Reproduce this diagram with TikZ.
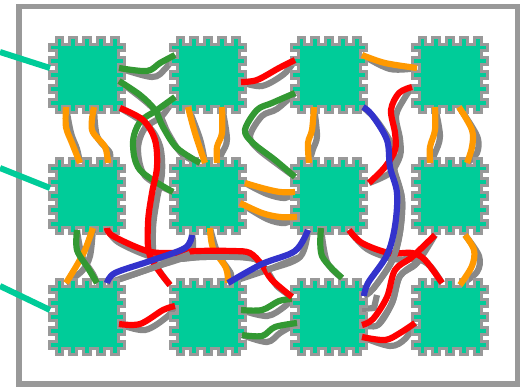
\documentclass[tikz,border=0pt]{standalone}
\usetikzlibrary{calc}
\definecolor{chipfill}{HTML}{00CC99}
\definecolor{chipedge}{HTML}{999999}
\definecolor{wshadow}{HTML}{888888}
\definecolor{wr}{HTML}{FF0000}
\definecolor{wo}{HTML}{FF9900}
\definecolor{wg}{HTML}{339933}
\definecolor{wb}{HTML}{3333CC}
\tikzset{
  chipbody/.style={fill=chipfill,draw=chipedge,line width=3pt,line join=miter},
  chipnode/.style={minimum size=78pt,inner sep=0pt},
  frame/.style={draw=chipedge,line width=5.5pt,fill=white},
  feed/.style={draw=chipfill,line width=6pt},
  wirecore/.style={line width=6.2pt,line join=round}
}
\newcommand\chipshape[1]{%
  \path[chipbody,shift={(#1)}] (-31,-31)
    \foreach \t in {-27.6,-13.8,0,13.8,27.6}{ -- (\t-3.4,-31) -- (\t-3.4,-37.5) -- (\t+3.4,-37.5) -- (\t+3.4,-31)}
    -- (31,-31)
    \foreach \t in {-27.6,-13.8,0,13.8,27.6}{ -- (31,\t-3.4) -- (37.5,\t-3.4) -- (37.5,\t+3.4) -- (31,\t+3.4)}
    -- (31,31)
    \foreach \t in {27.6,13.8,0,-13.8,-27.6}{ -- (\t+3.4,31) -- (\t+3.4,37.5) -- (\t-3.4,37.5) -- (\t-3.4,31)}
    -- (-31,31)
    \foreach \t in {27.6,13.8,0,-13.8,-27.6}{ -- (-31,\t+3.4) -- (-37.5,\t+3.4) -- (-37.5,\t-3.4) -- (-31,\t-3.4)}
    -- cycle;
}
% wires beneath the later crossings: green, then orange
\newcommand\lowerwires{%
\W{wg}{($(a1)+(32,-7)$) (147,71) (160,63) ($(a2)+(-33,-20)$)}
\W{wg}{($(a2)+(-33,22)$) (157,110) (140,122) (133,143) (140,170) ($(b2)+(-35,-4)$)}
\W{wg}{($(a1)+(32,6)$) (140,95) (155,110) (163,127) (177,148) ($(b2)+(-8,-33)$)}
\W{wg}{($(a3)+(-34,18)$) (272,103) (257,110) (245,130) (253,143) (275,160) ($(b3)+(-34,-19)$)}
\W{wg}{($(b3)+(-8,32)$) (322,256) ($(c3)+(13,-39)$)}
\W{wg}{($(c2)+(33,-7)$) (262,310) (279,301) ($(c3)+(-37,-18)$)}
\W{wg}{($(c2)+(34,18)$) (262,336) (275,327) ($(c3)+(-32,6)$)}
\W{wo}{($(a1)+(-21,32)$) (66,127) (72,143) ($(b1)+(-7,-33)$)}
\W{wo}{($(a1)+(7,32)$) (92,130) (105,147) ($(b1)+(21,-33)$)}
\W{wo}{($(a2)+(-20,32)$) (195,133) ($(b2)+(-3,-33)$)}
\W{wo}{($(a2)+(14,32)$) (222,133) (217,147) ($(b2)+(9,-33)$)}
\W{wo}{($(a3)+(33,-20)$) (385,63) ($(a4)+(-33,-7)$)}
\W{wo}{($(a3)+(-15,32)$) (312,130) (308,143) ($(b3)+(-20,-33)$)}
\W{wo}{($(a4)+(-15,32)$) (435,130) (430,147) ($(b4)+(-20,-33)$)}
\W{wo}{($(a4)+(9,32)$) (472,130) (472,147) ($(b4)+(17,-33)$)}
\W{wo}{($(b2)+(37,-13)$) (262,188) (280,192) ($(b3)+(-34,-4)$)}
\W{wo}{($(b2)+(32,7)$) (262,213) (280,217) ($(b3)+(-32,21)$)}
\W{wo}{($(b1)+(6,32)$) (85,250) (77,265) ($(c1)+(-21,-34)$)}
\W{wo}{($(b2)+(2,32)$) (213,248) (226,268) ($(c2)+(20,-34)$)}
\W{wo}{($(b4)+(15,39)$) (474,250) (472,266) ($(c4)+(10,-32)$)}
\W{wg}{($(b1)+(-10,34)$) (77,250) (88,268) ($(c1)+(10,-34)$)}
}
\newcommand\redwires{%
\W{wr}{($(a1)+(33,33)$) (143,120) (155,140) (157,167) (152,193) (148,223) (150,256) ($(c2)+(-38,-32)$)}
\W{wr}{($(a2)+(33,7)$) (257,80) (279,68) ($(a3)+(-34,-15)$)}
\W{wr}{($(a4)+(-38,12)$) (399,93) (391,110) (395,133) (395,150) (385,167) ($(b3)+(40,-13)$)}
\W{wr}{($(b1)+(20,32)$) (113,236) (147,251) (173,253) (197,251) (233,251) (250,253) (262,265) (272,280) ($(c3)+(-37,-20)$)}
\W{wr}{($(b3)+(20,34)$) (362,243) (389,253) (412,253) (425,260) ($(c4)+(-8,-34)$)}
\W{wr}{($(c3)+(33,20)$) (385,340) (400,333) ($(c4)+(-35,6)$)}
\W{wr}{($(c1)+(32,7)$) (140,324) (163,310) ($(c2)+(-33,-11)$)}
}
\newcommand\upperwires{%
\W{wr}{($(b4)+(-15,39)$) (412,257) (395,270) (387,297) (373,319) ($(c3)+(33,8)$)}
\W{wb}{($(a3)+(34,32)$) (372,115) (387,140) (390,167) (397,193) (395,226) (387,255) (368,283) ($(c3)+(35,-21)$)}
\W{wb}{($(b2)+(-16,39)$) (185,248) (150,261) (115,273) ($(c1)+(20,-34)$)}
\W{wb}{($(c2)+(20,-34)$) (262,264) (295,251) ($(b3)+(-21,34)$)}
}
\begin{document}
\begin{tikzpicture}[x=1pt,y=-1pt]
\useasboundingbox (0,0) rectangle (524,386);
\path[frame] (19,6.7) rectangle (517.5,384);
\foreach \n/\p in {a1/{87,75},a2/{208,75},a3/{329,75},a4/{450,75},
                   b1/{87,196},b2/{208,196},b3/{329,196},b4/{450,196},
                   c1/{87,317},c2/{208,317},c3/{329,317},c4/{450,317}}{
  \node[chipnode] (\n) at (\p) {};
}
\begin{scope}[shift={(5,6)}]
  \def\W#1#2{\draw[wshadow,wirecore] plot[smooth,tension=.55] coordinates {#2};}
  \lowerwires \redwires \upperwires
  \draw[wshadow,wirecore] (372,289) -- (369,302) -- (357,303);
\end{scope}
\foreach \p in {{87,75},{208,75},{329,75},{450,75},
                {87,196},{208,196},{329,196},{450,196},
                {87,317},{208,317},{329,317},{450,317}}{
  \chipshape{\p}
}
\def\W#1#2{\draw[#1,wirecore] plot[smooth,tension=.55] coordinates {#2};}
\lowerwires
% shadow of the long red wire passes over the orange one
\draw[wshadow,wirecore,shift={(5,6)}] plot[smooth,tension=.55] coordinates {(173,253) (197,251) (233,251) (250,253)};
\redwires
% shadows of the top wires pass over the reds
\begin{scope}[shift={(5,6)}]
  \draw[wshadow,wirecore] plot[smooth,tension=.55] coordinates {(412,257) (395,270) (387,297) (373,319)};
  \draw[wshadow,wirecore] plot[smooth,tension=.55] coordinates {(390,167) (397,193) (395,226) (387,255) (368,283)};
  \draw[wshadow,wirecore] plot[smooth,tension=.55] coordinates {(185,248) (150,261) (115,273)};
  \draw[wshadow,wirecore] plot[smooth,tension=.55] coordinates {(262,264) (295,251)};
\end{scope}
\upperwires
\coordinate (t1) at (0,52);
\coordinate (t2) at (0,168);
\coordinate (t3) at (0,286);
\draw[feed] (t1) -- ($(a1)+(-37,-7)$);
\draw[feed] (t2) -- ($(b1)+(-37,-8)$);
\draw[feed] (t3) -- ($(c1)+(-37,-7)$);
\end{tikzpicture}
\end{document}
